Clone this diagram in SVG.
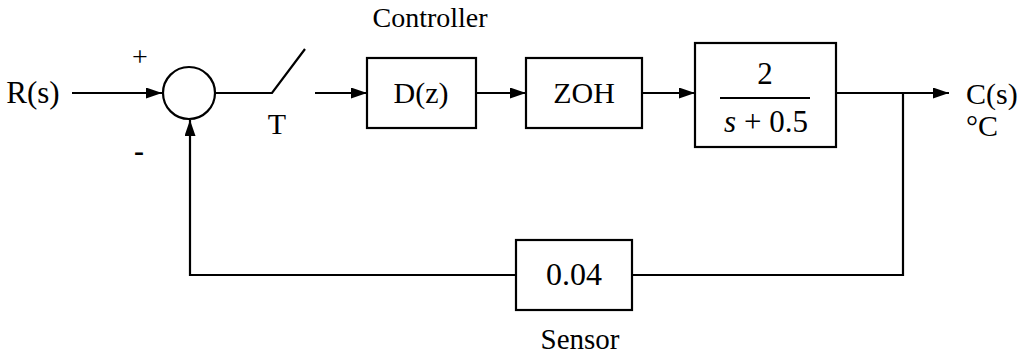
<svg xmlns="http://www.w3.org/2000/svg" width="1023" height="354" viewBox="0 0 1023 354">
<style>
text{font-family:"Liberation Serif","Times New Roman",serif;fill:#000}
.blk{fill:#fff;stroke:#000;stroke-width:2.2}
.ln{fill:none;stroke:#000;stroke-width:2.2}
</style>
<defs>
<marker id="ah" viewBox="0 0 16 11" refX="16" refY="5.5" markerWidth="16" markerHeight="11" markerUnits="userSpaceOnUse" orient="auto">
<path d="M0,0 L16,5.5 L0,11 Z" fill="#000"/>
</marker>
</defs>
<rect width="1023" height="354" fill="#fff"/>
<g id="connectors">
<line class="ln" x1="72" y1="93" x2="162" y2="93" marker-end="url(#ah)"/>
<polyline class="ln" points="215,93 272,93 305,49"/>
<line class="ln" x1="315" y1="93" x2="367" y2="93" marker-end="url(#ah)"/>
<line class="ln" x1="476" y1="93" x2="526" y2="93" marker-end="url(#ah)"/>
<line class="ln" x1="642" y1="93" x2="695" y2="93" marker-end="url(#ah)"/>
<line class="ln" x1="836" y1="93" x2="949" y2="93" marker-end="url(#ah)"/>
<polyline class="ln" points="903,93 903,275 632,275"/>
<polyline class="ln" points="516,275 190,275 190,120" marker-end="url(#ah)"/>
</g>
<g id="sum">
<circle class="blk" cx="189" cy="93" r="26"/>
<text x="140" y="66" text-anchor="middle" font-size="28">+</text>
<text x="139" y="161" text-anchor="middle" font-size="30" font-weight="bold">-</text>
</g>
<g id="input"><text x="33" y="103" text-anchor="middle" font-size="31">R(s)</text></g>
<g id="switch"><text x="277" y="134" text-anchor="middle" font-size="30">T</text></g>
<g id="controller">
<rect class="blk" x="367" y="58" width="109" height="70"/>
<text x="421" y="103" text-anchor="middle" font-size="30">D(z)</text>
<text x="430" y="27" text-anchor="middle" font-size="28">Controller</text>
</g>
<g id="zoh">
<rect class="blk" x="526" y="58" width="116" height="70"/>
<text x="584" y="103" text-anchor="middle" font-size="30">ZOH</text>
</g>
<g id="plant">
<rect class="blk" x="695" y="43" width="141" height="104"/>
<text x="765" y="84" text-anchor="middle" font-size="31">2</text>
<line class="ln" x1="720" y1="98" x2="810" y2="98"/>
<text x="766" y="132" text-anchor="middle" font-size="31"><tspan font-style="italic">s</tspan> + 0.5</text>
</g>
<g id="output">
<text x="966" y="104" font-size="30">C(s)</text>
<text x="966" y="136" font-size="30">°C</text>
</g>
<g id="sensor">
<rect class="blk" x="516" y="240" width="116" height="70"/>
<text x="574" y="285" text-anchor="middle" font-size="32">0.04</text>
<text x="580" y="349" text-anchor="middle" font-size="29">Sensor</text>
</g>
</svg>
